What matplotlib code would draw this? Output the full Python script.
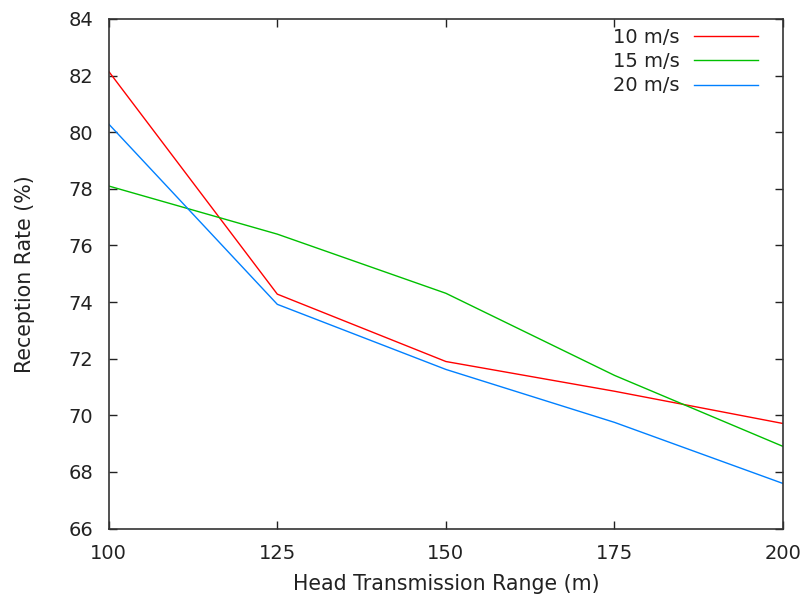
import matplotlib
matplotlib.use("Agg")
import matplotlib.pyplot as plt

# head transmission range (m)
ranges = [100, 125, 150, 175, 200]
# reception rate (%) per speed
rate_10 = [82.15, 74.28, 71.9, 70.85, 69.71]
rate_15 = [78.1, 76.4, 74.31, 71.41, 68.9]
rate_20 = [80.29, 73.92, 71.62, 69.75, 67.59]
labels = ['10 m/s', '15 m/s', '20 m/s']
colors = ['#ff0000', '#00c000', '#0080ff']

plt.rcParams['font.family'] = 'DejaVu Sans'
fig = plt.figure(figsize=(8.04, 6.03), dpi=100)
ax = fig.add_axes([0.1352, 0.1235, 0.8388, 0.845])

for ys, lab, c in zip([rate_10, rate_15, rate_20], labels, colors):
    ax.plot(ranges, ys, color=c, lw=1.0, label=lab)

ax.set_xlim(100, 200)
ax.set_ylim(66, 84)
ax.set_xticks(ranges)
ax.set_yticks(range(66, 85, 2))
ax.tick_params(direction='in', top=True, right=True, length=6, width=1,
               labelsize=14, colors='#222222')
ax.tick_params(axis='y', pad=11)
ax.tick_params(axis='x', pad=11)
for s in ax.spines.values():
    s.set_color('#333333')
    s.set_linewidth(1.2)

ax.set_xlabel('Head Transmission Range (m)', fontsize=14.8, color='#222222', labelpad=8)
ax.set_ylabel('Reception Rate (%)', fontsize=14.8, color='#222222', labelpad=24)

leg = ax.legend(loc='upper right', frameon=False, markerfirst=False, fontsize=14,
                handlelength=3.3, handletextpad=0.75, labelspacing=0.28,
                borderaxespad=0.3, bbox_to_anchor=(0.983, 1.010))
for t in leg.get_texts():
    t.set_color('#222222')

fig.savefig('out.png', dpi=100)
